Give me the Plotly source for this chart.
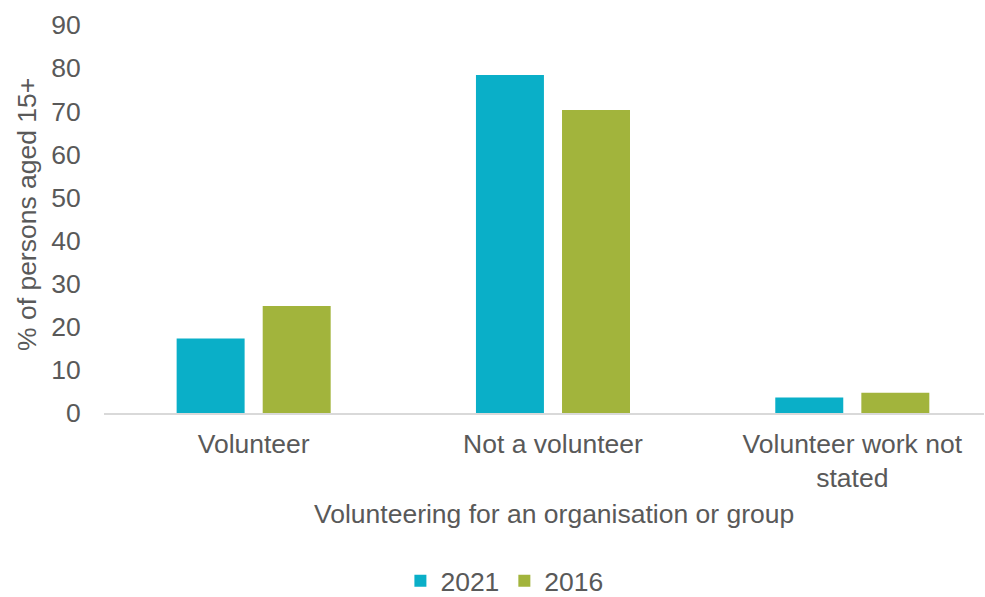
import plotly.graph_objects as go

categories = ["Volunteer", "Not a volunteer", "Volunteer work not<br>stated"]
values_2021 = [17.3, 78.4, 3.6]
values_2016 = [24.8, 70.3, 4.7]
series_names = ["2021", "2016"]
y_ticks = [0, 10, 20, 30, 40, 50, 60, 70, 80, 90]

FONT = "Liberation Sans, Arial, sans-serif"
TXT = "#595959"
FS = 26.5

fig = go.Figure()
fig.add_trace(go.Bar(x=categories, y=values_2021, name=series_names[0],
                     marker=dict(color="#0AAFC8", line=dict(width=0))))
fig.add_trace(go.Bar(x=categories, y=values_2016, name=series_names[1],
                     marker=dict(color="#A2B43C", line=dict(width=0))))

fig.update_layout(
    width=985, height=597,
    margin=dict(l=104, r=1, t=25, b=184, autoexpand=False),
    paper_bgcolor="white", plot_bgcolor="white",
    font=dict(family=FONT, size=FS, color=TXT),
    barmode="group", bargap=0.425, bargroupgap=0.21,
    showlegend=True,
    legend=dict(orientation="h", x=0.455, xanchor="center", y=(413 - 581) / 388, yanchor="middle",
                font=dict(size=FS, color=TXT), itemwidth=30, traceorder="normal"),
    xaxis=dict(range=[-0.5, 2.44], showgrid=False, showline=True, linecolor="#D9D9D9",
               linewidth=2, ticks="outside", ticklen=6, tickcolor="rgba(0,0,0,0)",
               tickfont=dict(size=FS, color=TXT), zeroline=False, automargin=False),
    yaxis=dict(range=[0, 90], tickvals=y_ticks, showgrid=False, showline=False,
               zeroline=False, ticks="outside", ticklen=17, tickcolor="rgba(0,0,0,0)",
               tickfont=dict(size=FS, color=TXT), automargin=False),
    annotations=[
        dict(text="Volunteering for an organisation or group", xref="paper", yref="paper",
             x=(554 - 104) / 880, y=(413 - 514) / 388, xanchor="center", yanchor="middle",
             showarrow=False, font=dict(size=FS, color=TXT)),
        dict(text="% of persons aged 15+", xref="paper", yref="paper",
             x=(27 - 104) / 880, y=(413 - 215) / 388, xanchor="center", yanchor="middle",
             textangle=-90, showarrow=False, font=dict(size=FS, color=TXT)),
    ],
)

fig.write_html("out.html", config={"displayModeBar": False},
               post_script="document.body.style.margin='0';document.body.style.overflow='hidden';")
